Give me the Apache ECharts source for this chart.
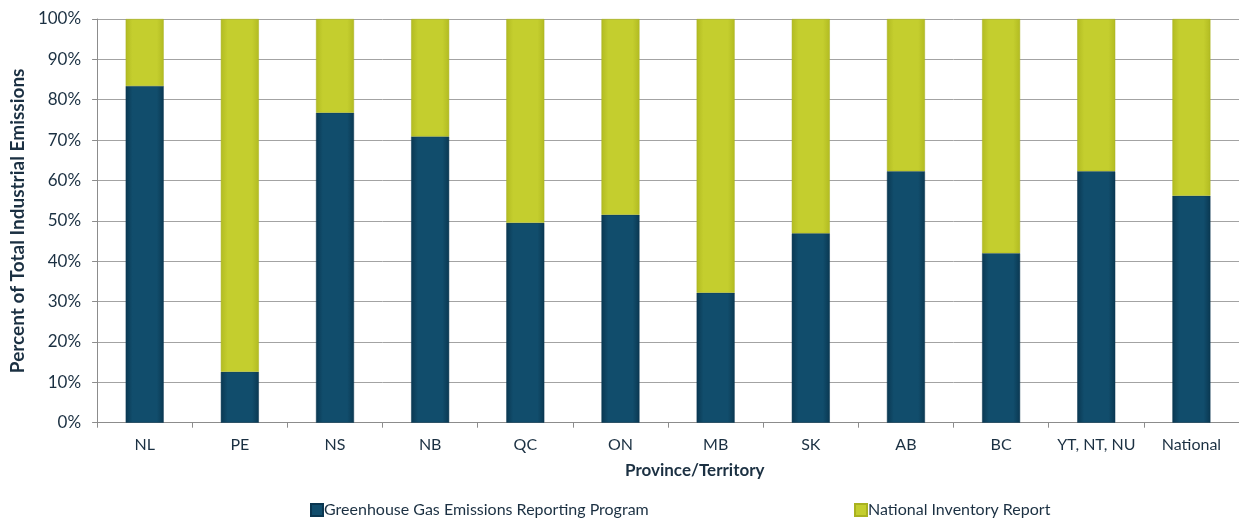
<!DOCTYPE html>
<html>
<head>
<meta charset="utf-8">
<style>
  html, body { margin: 0; padding: 0; background: #ffffff; }
  #chart { width: 1239px; height: 518px; }
</style>
<script src="https://cdn.jsdelivr.net/npm/echarts@6/dist/echarts.min.js"></script>
</head>
<body>
<div id="chart"></div>
<script>
// Share of total industrial emissions by province/territory (%)
const regions = ['NL', 'PE', 'NS', 'NB', 'QC', 'ON', 'MB', 'SK', 'AB', 'BC', 'YT, NT, NU', 'National'];
const ghgrpShare = [83.4, 12.6, 76.8, 70.9, 49.5, 51.5, 32.2, 46.9, 62.3, 42.0, 62.3, 56.2];
const nirShare   = [16.6, 87.4, 23.2, 29.1, 50.5, 48.5, 67.8, 53.1, 37.7, 58.0, 37.7, 43.8];
const yTicks = [0, 10, 20, 30, 40, 50, 60, 70, 80, 90, 100];

const seriesNames = ['Greenhouse Gas Emissions Reporting Program', 'National Inventory Report'];

const textColor = '#1b3042';
const fontFamily = 'Lato, "Open Sans", sans-serif';

// horizontal shading gives the columns a rounded, glossy look
function columnFill(edge, mid) {
  return new echarts.graphic.LinearGradient(0, 0, 1, 0, [
    { offset: 0, color: edge },
    { offset: 0.18, color: mid },
    { offset: 0.82, color: mid },
    { offset: 1, color: edge }
  ]);
}
const blueFill = columnFill('#0a3852', '#114d6c');
const greenFill = columnFill('#b2bb22', '#c4ce2e');

const chart = echarts.init(document.getElementById('chart'), null, { renderer: 'canvas' });

chart.setOption({
  animation: false,
  backgroundColor: '#ffffff',
  grid: { left: 94, top: 19, width: 1150, height: 403.7, containLabel: false },
  xAxis: {
    type: 'category',
    data: regions,
    axisLine: { show: true, lineStyle: { color: '#8c8c8c', width: 1 } },
    axisTick: { show: true, alignWithLabel: false, length: 5, lineStyle: { color: '#8c8c8c' } },
    axisLabel: { color: textColor, fontSize: 16, fontFamily: fontFamily, margin: 14, interval: 0 },
    splitLine: { show: false }
  },
  yAxis: {
    type: 'value',
    min: yTicks[0],
    max: yTicks[yTicks.length - 1],
    interval: yTicks[1] - yTicks[0],
    name: 'Percent of Total Industrial Emissions',
    nameLocation: 'middle',
    nameRotate: 90,
    nameGap: 68,
    nameTextStyle: { color: textColor, fontSize: 19, fontWeight: 'bold', fontFamily: fontFamily },
    axisLine: { show: true, lineStyle: { color: '#8c8c8c', width: 1 } },
    axisTick: { show: true, length: 5, lineStyle: { color: '#8c8c8c' } },
    axisLabel: { color: textColor, fontSize: 17, fontFamily: fontFamily, margin: 16, formatter: '{value}%' },
    splitLine: { show: true, lineStyle: { color: '#a3a3a3', width: 1 } }
  },
  legend: [
    {
      data: [{ name: seriesNames[0], itemStyle: { color: blueFill } }],
      left: 305, top: 497,
      icon: 'rect', itemWidth: 12, itemHeight: 12, itemGap: 4,
      textStyle: { color: textColor, fontSize: 16, fontFamily: fontFamily, padding: [0, 0, 0, -4] }
    },
    {
      data: [{ name: seriesNames[1], itemStyle: { color: greenFill } }],
      left: 849, top: 497,
      icon: 'rect', itemWidth: 12, itemHeight: 12, itemGap: 4,
      textStyle: { color: textColor, fontSize: 16, fontFamily: fontFamily, padding: [0, 0, 0, -4] }
    }
  ],
  graphic: [
    {
      type: 'text',
      left: 625, top: 462,
      style: { text: 'Province/Territory', fill: textColor, fontSize: 17, fontWeight: 'bold', fontFamily: fontFamily }
    }
  ],
  series: [
    {
      name: seriesNames[0],
      type: 'bar',
      stack: 'share',
      barWidth: 38,
      data: ghgrpShare,
      itemStyle: { color: blueFill, borderColor: '#0a3650', borderWidth: 0.5 }
    },
    {
      name: seriesNames[1],
      type: 'bar',
      stack: 'share',
      barWidth: 38,
      data: nirShare,
      itemStyle: { color: greenFill, borderColor: '#a9b220', borderWidth: 0.5 }
    }
  ]
});
</script>
</body>
</html>
